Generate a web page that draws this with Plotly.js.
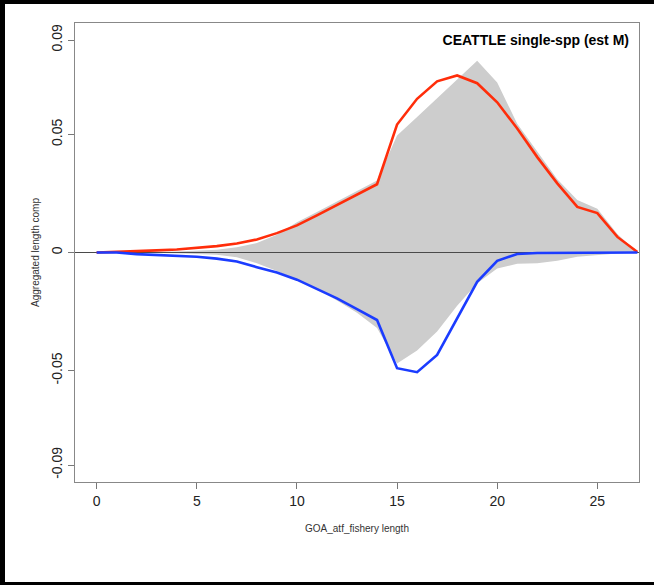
<!DOCTYPE html>
<html>
<head>
<meta charset="utf-8">
<script src="https://cdn.plot.ly/plotly-3.0.1.min.js"></script>
<style>
html,body{margin:0;padding:0;background:#fff;}
#wrap{position:relative;width:654px;height:585px;}
#chart{position:absolute;left:0;top:0;width:654px;height:585px;}
#frame{position:absolute;left:0;top:0;width:649px;height:578px;border-top:4px solid #000;border-left:5px solid #000;border-bottom:3px solid #000;pointer-events:none;}
</style>
</head>
<body>
<div id="wrap"><div id="chart"></div><div id="frame"></div></div>
<script>
// Length bins
const lengthBins = [0,1,2,3,4,5,6,7,8,9,10,11,12,13,14,15,16,17,18,19,20,21,22,23,24,25,26,27];

// Observed aggregated comp (upper, grey)
const obsUpper = [0,0,0.0001,0.0002,0.0004,0.0007,0.0012,0.0022,0.0040,0.0075,0.0128,0.0172,0.0215,0.0260,0.0305,0.0496,0.0574,0.0655,0.0733,0.0812,0.0720,0.0545,0.0425,0.0310,0.0222,0.0185,0.0078,0];
// Observed aggregated comp (lower, grey, mirrored)
const obsLower = [0,0,-0.0001,-0.0002,-0.0003,-0.0005,-0.0010,-0.0020,-0.0045,-0.0078,-0.0115,-0.0155,-0.0203,-0.0255,-0.0320,-0.0470,-0.0415,-0.0335,-0.0225,-0.0130,-0.0068,-0.0048,-0.0045,-0.0035,-0.0018,-0.0010,-0.0004,0];

// Predicted (red, upper)
const predUpper = [0,0.0002,0.0005,0.0009,0.0013,0.0019,0.0027,0.0038,0.0055,0.0082,0.0115,0.0157,0.0200,0.0243,0.0289,0.0542,0.0651,0.0725,0.0750,0.0717,0.0636,0.0525,0.0404,0.0293,0.0193,0.0167,0.0066,0.0002];
// Predicted (blue, lower)
const predLower = [0,0,-0.0007,-0.0010,-0.0014,-0.0018,-0.0026,-0.0038,-0.0062,-0.0085,-0.0115,-0.0153,-0.0194,-0.0240,-0.0286,-0.0490,-0.0507,-0.0434,-0.0279,-0.0124,-0.0035,-0.0006,-0.0002,-0.0001,-0.0001,0,0,0];

const xTicks = [0,5,10,15,20,25];
const yTicks = [-0.09,-0.05,0,0.05,0.09];
const yTickText = ['-0.09','-0.05','0','0.05','0.09'];

const xRange = [-1.08, 27.08];
const yRange = [-0.0972, 0.0972];

const font = 'Liberation Sans, Arial, Helvetica, sans-serif';

const polyX = lengthBins.concat(lengthBins.slice().reverse());
const polyY = obsUpper.concat(obsLower.slice().reverse());

const traces = [
  {x: polyX, y: polyY, type:'scatter', mode:'lines', fill:'toself',
   fillcolor:'#cdcdcd', line:{width:0, color:'#cdcdcd'}, hoverinfo:'skip', showlegend:false},
  {x: xRange, y: [0,0], type:'scatter', mode:'lines',
   line:{color:'#4a4a4a', width:1.2}, hoverinfo:'skip', showlegend:false},
  {x: lengthBins, y: predUpper, type:'scatter', mode:'lines',
   line:{color:'#ff2d0a', width:2.6}, showlegend:false},
  {x: lengthBins, y: predLower, type:'scatter', mode:'lines',
   line:{color:'#1b3cff', width:2.6}, showlegend:false}
];

const layout = {
  width:654, height:585,
  margin:{l:75, r:15, t:23, b:103},
  paper_bgcolor:'#fff', plot_bgcolor:'#fff',
  showlegend:false,
  title:{text:'<b>CEATTLE single-spp (est M)</b>', font:{family:font, size:14, color:'#000'},
         xref:'container', x:629/654, xanchor:'right', yref:'container', y:1-40/585, yanchor:'middle'},
  xaxis:{range:xRange, tickvals:xTicks, ticktext:xTicks.map(String), ticks:'outside', ticklen:6,
         tickcolor:'#777', tickwidth:1, showline:true, linecolor:'#888', linewidth:1.2, mirror:true,
         showgrid:false, zeroline:false, tickfont:{family:font, size:14, color:'#222'},
         title:{text:'GOA_atf_fishery length', font:{family:font, size:10, color:'#333'}, standoff:17}},
  yaxis:{range:yRange, tickvals:yTicks, ticktext:yTickText, ticks:'outside', ticklen:6, tickangle:-90,
         tickcolor:'#777', tickwidth:1, showline:true, linecolor:'#888', linewidth:1.2, mirror:true,
         showgrid:false, zeroline:false, tickfont:{family:font, size:14, color:'#222'},
         title:{text:'Aggregated length comp', font:{family:font, size:10, color:'#333'}, standoff:7}}
};

Plotly.newPlot('chart', traces, layout, {displayModeBar:false, staticPlot:true});
</script>
</body>
</html>
